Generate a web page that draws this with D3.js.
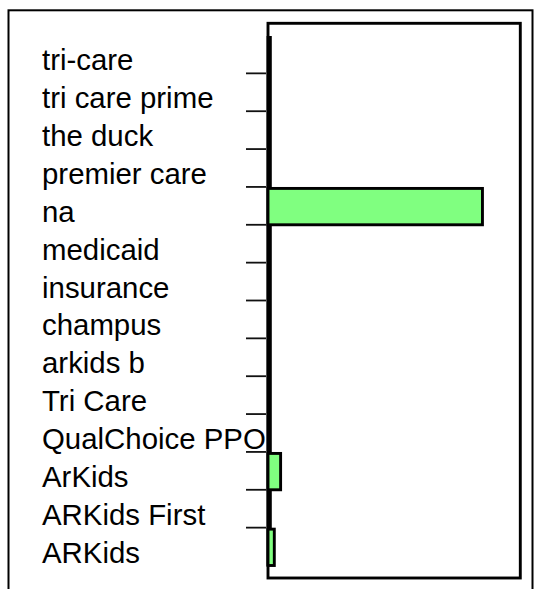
<!DOCTYPE html>
<html>
<head>
<meta charset="utf-8">
<script src="https://cdn.jsdelivr.net/npm/d3@7/dist/d3.min.js"></script>
<style>
  html, body { margin: 0; padding: 0; background: #fff; }
  svg { display: block; }
</style>
</head>
<body>
<svg id="chart" width="534" height="589"></svg>
<script>
const categories = ["tri-care", "tri care prime", "the duck", "premier care", "na", "medicaid",
  "insurance", "champus", "arkids b", "Tri Care", "QualChoice PPO", "ArKids", "ARKids First", "ARKids"];
const values = [0, 0, 0, 0, 34, 0, 0, 0, 0, 0, 0, 2, 0, 1];
const xDomain = [0, 40];

const svg = d3.select("#chart");

// outer frame
svg.append("rect")
  .attr("x", 8.5).attr("y", 10.3).attr("width", 524).attr("height", 620)
  .attr("fill", "none").attr("stroke", "#000").attr("stroke-width", 2);

const x = d3.scaleLinear().domain(xDomain).range([268, 520.3]);
const y = d3.scaleBand().domain(categories).range([35.5, 565.5]).padding(0);

// plot box
svg.append("rect")
  .attr("x", 268).attr("y", 23.3).attr("width", 520.3 - 268).attr("height", 578 - 23.3)
  .attr("fill", "none").attr("stroke", "#000").attr("stroke-width", 2.9);

// axis line
svg.append("line")
  .attr("x1", 269.2).attr("x2", 269.2).attr("y1", 36).attr("y2", 566)
  .attr("stroke", "#000").attr("stroke-width", 5.2);

// ticks at category boundaries
svg.append("g").selectAll("line")
  .data(categories.slice(1))
  .join("line")
  .attr("x1", 246).attr("x2", 266)
  .attr("y1", d => y(d)).attr("y2", d => y(d))
  .attr("stroke", "#111").attr("stroke-width", 1.8);

// labels
svg.append("g").selectAll("text")
  .data(categories)
  .join("text")
  .attr("x", 42)
  .attr("y", d => y(d) + y.bandwidth() - 3)
  .attr("font-family", "'Liberation Sans', Arial, sans-serif")
  .attr("font-size", 29.4)
  .attr("fill", "#000")
  .text(d => d);

// bars
svg.append("g").selectAll("rect")
  .data(categories.map((c, i) => ({ c, v: values[i] })))
  .join("rect")
  .attr("x", x(0))
  .attr("y", d => y(d.c) + 1.5)
  .attr("width", d => x(d.v) - x(0))
  .attr("height", y.bandwidth() - 1.5)
  .attr("fill", "#80ff80")
  .attr("stroke", "#000")
  .attr("stroke-width", 2.9);
</script>
</body>
</html>
